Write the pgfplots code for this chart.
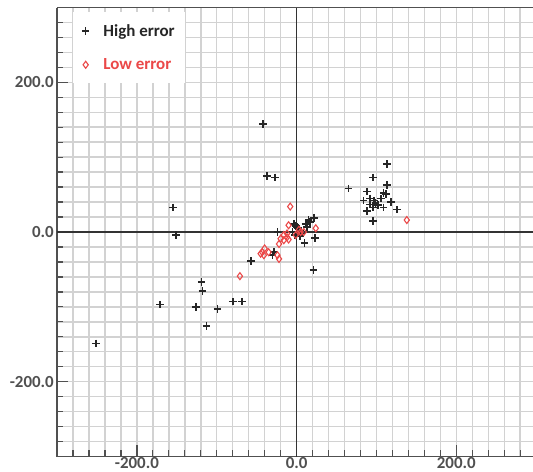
\documentclass[border=0pt]{standalone}
\usepackage{fontspec}
\setmainfont{Carlito}
\usepackage{pgfplots}
\pgfplotsset{compat=1.18}
\definecolor{gridc}{RGB}{210,210,210}
\definecolor{axc}{RGB}{80,80,80}
\definecolor{lowred}{RGB}{235,72,72}
\definecolor{labc}{RGB}{80,80,80}
\begin{document}
\begin{tikzpicture}
\useasboundingbox (-57bp,-15.5bp) rectangle (476bp,456.5bp);
\begin{axis}[
  at={(0,0)}, anchor=south west,
  scale only axis, width=476bp, height=449bp,
  xmin=-300, xmax=296, ymin=-300, ymax=300,
  axis x line*=bottom, axis y line*=left,
  axis line style={axc, line width=1.8bp},
  xtick={-200,0,200}, xticklabels={-200.0,0.0,200.0},
  ytick={-200,0,200}, yticklabels={-200.0,0.0,200.0},
  minor xtick={-280,-260,-240,-220,-180,-160,-140,-120,-100,-80,-60,-40,-20,20,40,60,80,100,120,140,160,180,220,240,260,280},
  minor ytick={-280,-260,-240,-220,-180,-160,-140,-120,-100,-80,-60,-40,-20,20,40,60,80,100,120,140,160,180,220,240,260,280},
  grid=both,
  major grid style={gridc, line width=1.5bp},
  minor grid style={gridc, line width=1.5bp},
  tick align=inside, major tick length=11bp, minor tick length=6bp,
  tick style={axc, line width=1.3bp},
  xticklabel style={font=\fontsize{17}{20}\selectfont\bfseries, text=labc, inner sep=1bp},
  yticklabel style={font=\fontsize{17}{20}\selectfont\bfseries, text=labc, inner sep=1bp, xshift=-2bp},
  legend style={at={(0.034,0.99)}, anchor=north west, fill=white, draw=none,
    font=\fontsize{17}{20}\selectfont\bfseries, row sep=17bp,
    inner xsep=8.5bp, inner ysep=10bp,
    /tikz/every odd column/.append style={column sep=12bp}},
  legend cell align=left,
]
\draw[black!80, line width=1.6bp] (axis cs:0,-300) -- (axis cs:0,300);
\draw[black!80, line width=1.6bp] (axis cs:-300,0) -- (axis cs:296,0);
\addplot[only marks, mark=+, mark size=3.8bp, black!85, line width=1.6bp] coordinates {
(-251,-149) (-171,-97) (-155,33) (-151,-4) (-126,-100) (-119,-67) (-118,-79)
(-113,-126) (-99,-103) (-80,-93) (-68,-93) (-57,-39) (-42,144) (-37,75) (-27,73)
(-28,-27) (-30,-31) (-24,0) (-5,0) (1,-2) (5,2) (7,-2) (-3,11) (-1,8) (11,11)
(15,16) (17,13) (22,19) (13,7) (10,-15) (23,-8) (21,-51) (2,5) (-2,-4) (4,-5)
(65,58) (88,54) (96,73) (113,91) (113,63) (109,52) (112,51) (84,42) (92,45)
(97,42) (99,39) (92,37) (96,33) (88,28) (102,36) (106,45) (109,33) (118,40)
(126,30) (96,15)
};
\addlegendentry{\textcolor{black!85}{High error}}
\addplot[only marks, mark=diamond, mark size=3.5bp, lowred, line width=1.1bp] coordinates {
(-71,-59) (-45,-29) (-43,-27) (-41,-31) (-40,-22) (-35,-27) (-24,-31) (-22,-36)
(-22,-16) (-20,-9) (-16,-11) (-16,-4) (-12,-2) (-10,-10) (-10,9) (-8,34) (-1,-4)
(3,3) (5,0) (9,0) (24,5) (138,16) (-12,-7)
};
\addlegendentry{\textcolor{lowred}{Low error}}
\draw[axc, line width=1.8bp] (rel axis cs:0,1) -- (rel axis cs:1,1);
\end{axis}
\end{tikzpicture}
\end{document}
